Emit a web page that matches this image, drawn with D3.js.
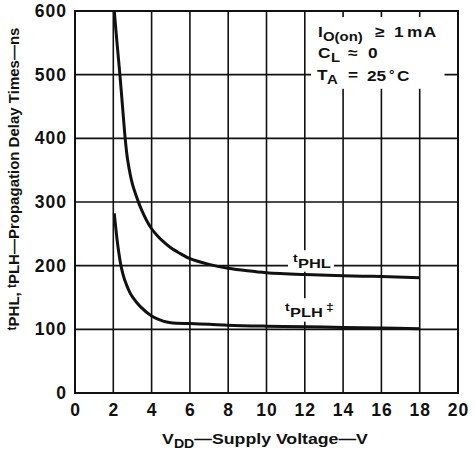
<!DOCTYPE html>
<html><head><meta charset="utf-8">
<script src="https://cdn.jsdelivr.net/npm/d3@7"></script>
<style>
body{margin:0;background:#fff}
text{font-family:"Liberation Sans",Arial,Helvetica,sans-serif;font-weight:bold;fill:#111}
</style>
</head><body><svg id="c" width="475" height="451"></svg>
<script>
// ---- data ----
const xTicks = [0,2,4,6,8,10,12,14,16,18,20];
const yTicks = [0,100,200,300,400,500,600];
const phlV = [2.05,2.2,2.35,2.5,2.62,2.75,3.0,3.3,3.5,3.74,4.0,4.3,4.6,5.0,5.5,6.0,7.0,8.0,9.0,10,12,14,16,18];
const phlT = [600,548,498,443,400,366,328,301,286,271,258,247,238,228,219,211,202,196,192,189,186,184,183,181];
const plhV = [2.05,2.12,2.2,2.3,2.4,2.5,2.6,2.86,3.0,3.4,4.0,4.6,5.0,6,7,8,10,12,14,16,18];
const plhT = [282,262,240,218,200,187,177,158,151,136,121,113,110.5,109,108,106.5,105,104,103,102,101];

const svg=d3.select("#c");
const x=d3.scaleLinear().domain([0,20]).range([75,458]);
const y=d3.scaleLinear().domain([0,600]).range([393,11]);

// grid
const g=svg.append("g");
g.selectAll(".vx").data(xTicks.slice(1,-1)).enter().append("line")
 .attr("x1",d=>x(d)).attr("x2",d=>x(d)).attr("y1",y(0)).attr("y2",y(600))
 .attr("stroke","#111").attr("stroke-width",1.6);
g.selectAll(".hy").data(yTicks.slice(1,-1)).enter().append("line")
 .attr("y1",d=>y(d)).attr("y2",d=>y(d)).attr("x1",x(0)).attr("x2",x(20))
 .attr("stroke","#111").attr("stroke-width",1.6);

const maskLayer=svg.append("g");

// frame
svg.append("rect").attr("x",x(0)).attr("y",y(600)).attr("width",x(20)-x(0)).attr("height",y(0)-y(600))
 .attr("fill","none").attr("stroke","#111").attr("stroke-width",2);

// axes (labels only)
const ax=svg.append("g").attr("transform",`translate(0,${y(0)})`)
 .call(d3.axisBottom(x).tickValues(xTicks).tickSize(0).tickPadding(11).tickFormat(d3.format("d")));
ax.select(".domain").remove();
ax.selectAll("text").attr("font-size",17.5).attr("letter-spacing",1).attr("font-family",null).attr("fill","#111");
const ay=svg.append("g").attr("transform",`translate(${x(0)},0)`)
 .call(d3.axisLeft(y).tickValues(yTicks).tickSize(0).tickPadding(8).tickFormat(d3.format("d")));
ay.select(".domain").remove();
ay.selectAll("text").attr("font-size",17.5).attr("letter-spacing",1).attr("font-family",null).attr("fill","#111");

const curveLayer=svg.append("g");
const textLayer=svg.append("g");

const line=d3.line().x(d=>x(d[0])).y(d=>y(d[1])).curve(d3.curveCatmullRom.alpha(0.5));
curveLayer.append("path").datum(phlV.map((v,i)=>[v,phlT[i]])).attr("d",line)
 .attr("fill","none").attr("stroke","#111").attr("stroke-width",3);
curveLayer.append("path").datum(plhV.map((v,i)=>[v,plhT[i]])).attr("d",line)
 .attr("fill","none").attr("stroke","#111").attr("stroke-width",3);

// helper: horizontally stretched text block; parts placed at screen x
function block(parent,X,sx,parts,size){
  const gg=parent.append("g").attr("transform",`translate(${X},0) scale(${sx},1)`);
  parts.forEach(p=>{
    gg.append("text").attr("x",(p.x-X)/sx).attr("y",p.y)
      .attr("font-size",p.fs||size).attr("letter-spacing",p.ls||0).text(p.t);
  });
  return gg;
}
function mask(node,pl,pr,pt,pb){
  const b=node.getBBox();
  maskLayer.append("rect").attr("x",b.x-pl).attr("y",b.y-pt).attr("width",b.width+pl+pr).attr("height",b.height+pt+pb).attr("fill","#fff");
}

// annotation
const annOuter=textLayer.append("g");
block(annOuter,318,1.15,[
  {t:"I",x:318,y:37},{t:"O(on)",x:323,y:41.5,fs:13},{t:"≥",x:375,y:37},{t:"1",x:394,y:37},{t:"mA",x:407,y:37,ls:1.2},
  {t:"C",x:318,y:58},{t:"L",x:331,y:62,fs:13},{t:"≈",x:348,y:58},{t:"0",x:368,y:58},
  {t:"T",x:317,y:80},{t:"A",x:327,y:84,fs:13},{t:"=",x:348,y:80},{t:"25",x:367,y:81},{t:"°",x:389,y:79,fs:12},{t:"C",x:397,y:81}
],15);
mask(annOuter.node(),6,7,6,2);

// curve labels
const l1=textLayer.append("g");
block(l1,293,1.22,[{t:"t",x:293,y:262,fs:11.5},{t:"PHL",x:298,y:268}],13.5);
mask(l1.node(),5,3,1,1);
const l2=textLayer.append("g");
block(l2,285,1.22,[{t:"t",x:285,y:311,fs:11.5},{t:"PLH",x:290,y:317},{t:"‡",x:326,y:311,fs:11.5}],13.5);
mask(l2.node(),3,3,2,2);

// axis titles
const xt=svg.append("g").attr("transform",`translate(265,444) scale(1.18,1)`);
const xtt=xt.append("text").attr("text-anchor","middle").attr("font-size",15);
xtt.append("tspan").text("V");
xtt.append("tspan").attr("dy",4).attr("font-size",12).text("DD");
xtt.append("tspan").attr("dy",-4).text("—Supply Voltage—V");

const yt=svg.append("text").attr("text-anchor","middle").attr("font-size",15)
 .attr("transform","translate(19,179) rotate(-90)");
[{t:"t",dy:-3,fs:12},{t:"PHL",dy:3},{t:", "},{t:"t",dy:-3,fs:12},{t:"PLH",dy:3},{t:"—Propagation Delay Times—ns"}]
 .forEach(p=>yt.append("tspan").attr("dy",p.dy||0).attr("font-size",p.fs||15).text(p.t));
</script></body></html>
